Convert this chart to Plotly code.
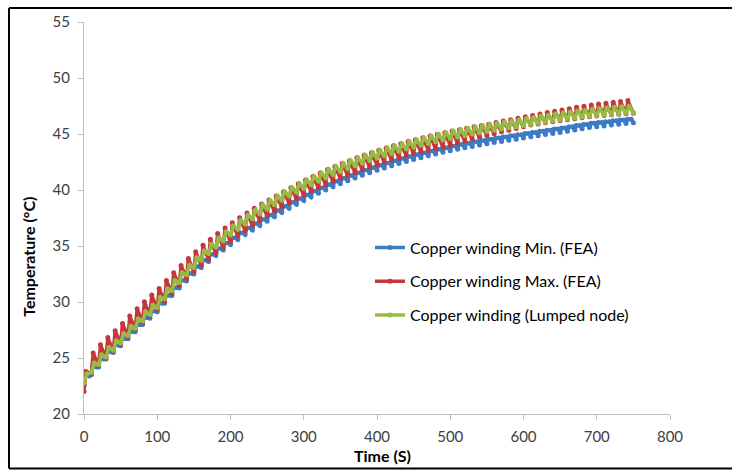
import plotly.graph_objects as go

# Start of each 10 s load cycle (s)
cycle_start = list(range(0, 760, 10))

# Copper winding (lumped node): temperature at cycle start and cycle peak (°C)
lumped_low = [
    22.8, 23.7, 24.4, 25.1, 25.7, 26.35, 27.0, 27.65, 28.3, 28.9,
    29.5, 30.28, 31.03, 31.75, 32.43, 33.09, 33.72, 34.32, 34.9, 35.45,
    35.98, 36.49, 36.97, 37.43, 37.88, 38.3, 38.71, 39.1, 39.47, 39.82,
    40.16, 40.49, 40.8, 41.1, 41.39, 41.66, 41.92, 42.17, 42.41, 42.64,
    42.86, 43.07, 43.27, 43.46, 43.65, 43.83, 43.99, 44.16, 44.31, 44.46,
    44.6, 44.74, 44.87, 44.99, 45.11, 45.22, 45.33, 45.44, 45.54, 45.63,
    45.74, 45.85, 45.95, 46.05, 46.15, 46.24, 46.33, 46.42, 46.51, 46.59,
    46.65, 46.7, 46.76, 46.81, 46.86, 46.91,
]
lumped_high = [
    23.6, 24.55, 25.28, 25.94, 26.54, 27.19, 27.84, 28.49, 29.12, 29.72,
    30.41, 31.18, 31.92, 32.62, 33.29, 33.94, 34.56, 35.15, 35.72, 36.26,
    36.78, 37.28, 37.75, 38.21, 38.65, 39.06, 39.47, 39.85, 40.21, 40.56,
    40.89, 41.21, 41.52, 41.82, 42.1, 42.36, 42.62, 42.87, 43.1, 43.33,
    43.54, 43.75, 43.95, 44.14, 44.32, 44.49, 44.66, 44.82, 44.97, 45.12,
    45.26, 45.39, 45.52, 45.64, 45.75, 45.86, 45.97, 46.08, 46.18, 46.27,
    46.38, 46.48, 46.58, 46.68, 46.78, 46.87, 46.96, 47.05, 47.13, 47.21,
    47.27, 47.32, 47.38, 47.43, 47.48,
]

# Copper winding Min. (FEA)
fea_min_low = [
    22.6, 23.5, 24.2, 24.9, 25.5, 26.1, 26.72, 27.35, 27.98, 28.56,
    29.14, 29.88, 30.58, 31.25, 31.88, 32.49, 33.07, 33.62, 34.15, 34.65,
    35.13, 35.59, 36.02, 36.43, 36.83, 37.2, 37.61, 38.0, 38.37, 38.72,
    39.06, 39.39, 39.7, 40.0, 40.29, 40.56, 40.82, 41.07, 41.31, 41.54,
    41.76, 41.97, 42.17, 42.36, 42.55, 42.73, 42.89, 43.06, 43.21, 43.36,
    43.5, 43.64, 43.77, 43.89, 44.01, 44.12, 44.23, 44.34, 44.44, 44.53,
    44.64, 44.75, 44.85, 44.95, 45.05, 45.14, 45.25, 45.36, 45.47, 45.57,
    45.65, 45.72, 45.8, 45.87, 45.94, 46.01,
]
fea_min_high = [
    23.4, 24.2, 24.9, 25.55, 26.15, 26.75, 27.37, 28.0, 28.61, 29.19,
    29.88, 30.61, 31.29, 31.94, 32.56, 33.16, 33.72, 34.26, 34.78, 35.27,
    35.74, 36.18, 36.6, 37.01, 37.39, 37.76, 38.16, 38.54, 38.9, 39.24,
    39.58, 39.9, 40.2, 40.5, 40.78, 41.04, 41.3, 41.54, 41.78, 42.0,
    42.22, 42.42, 42.62, 42.81, 42.99, 43.16, 43.33, 43.49, 43.64, 43.78,
    43.92, 44.06, 44.18, 44.3, 44.42, 44.53, 44.64, 44.74, 44.84, 44.93,
    45.04, 45.14, 45.24, 45.34, 45.44, 45.53, 45.64, 45.75, 45.85, 45.95,
    46.03, 46.1, 46.18, 46.25, 46.32,
]

# Copper winding Max. (FEA)
fea_max_low = [
    22.0, 23.6, 24.3, 25.0, 25.6, 26.25, 26.9, 27.55, 28.2, 28.8,
    29.35, 30.08, 30.78, 31.45, 32.08, 32.69, 33.27, 33.82, 34.35, 34.85,
    35.38, 35.89, 36.37, 36.83, 37.28, 37.7, 38.11, 38.5, 38.87, 39.22,
    39.56, 39.89, 40.2, 40.5, 40.79, 41.06, 41.32, 41.57, 41.81, 42.04,
    42.26, 42.47, 42.67, 42.86, 43.05, 43.23, 43.39, 43.56, 43.71, 43.86,
    44.0, 44.19, 44.37, 44.54, 44.71, 44.87, 45.03, 45.19, 45.34, 45.48,
    45.64, 45.8, 45.9, 46.0, 46.1, 46.19, 46.28, 46.37, 46.46, 46.54,
    46.6, 46.65, 46.71, 46.76, 46.81, 46.86,
]
fea_max_high = [
    23.8, 25.45, 26.18, 26.84, 27.44, 28.09, 28.74, 29.39, 30.02, 30.62,
    31.21, 31.93, 32.62, 33.27, 33.89, 34.49, 35.06, 35.6, 36.12, 36.61,
    37.08, 37.53, 37.95, 38.36, 38.75, 39.11, 39.47, 39.85, 40.21, 40.56,
    40.89, 41.21, 41.52, 41.82, 42.1, 42.36, 42.62, 42.87, 43.1, 43.33,
    43.54, 43.75, 43.95, 44.14, 44.32, 44.49, 44.66, 44.82, 44.97, 45.12,
    45.26, 45.39, 45.52, 45.64, 45.75, 45.86, 46.02, 46.16, 46.28, 46.4,
    46.53, 46.66, 46.78, 46.91, 47.03, 47.15, 47.26, 47.38, 47.48, 47.59,
    47.67, 47.75, 47.83, 47.91, 47.98,
]

series_names = [
    "Copper winding Min. (FEA)",
    "Copper winding Max. (FEA)",
    "Copper winding (Lumped node)",
]
series_colors = ["#3B7CC4", "#C6373B", "#97BB45"]


def cycle_trace(starts, low, high, peak_after, hold_until=None):
    """Expand per-cycle start/peak temperatures into a time series."""
    xs, ys = [], []
    for k in range(len(high)):
        t0 = starts[k]
        xs += [t0, t0 + peak_after]
        ys += [low[k], high[k]]
        if hold_until is not None:
            xs.append(t0 + hold_until)
            ys.append(high[k])
    xs.append(starts[len(high)])
    ys.append(low[len(high)])
    return xs, ys


curves = [
    cycle_trace(cycle_start, fea_min_low, fea_min_high, 2, hold_until=7),
    cycle_trace(cycle_start, fea_max_low, fea_max_high, 2.5),
    cycle_trace(cycle_start, lumped_low, lumped_high, 4),
]

fig = go.Figure()
for i, ((xs, ys), name, color) in enumerate(zip(curves, series_names, series_colors)):
    fig.add_trace(go.Scatter(
        x=xs, y=ys, name=name, mode="lines+markers",
        line=dict(color=color, width=3.5),
        marker=dict(color=color, size=5),
        legendgroup=f"g{i}",
    ))

axis_font = dict(family="Lato", size=15, color="#404040")
title_font = dict(family="Lato", size=16, color="#000000", weight="bold")

fig.update_layout(
    width=732, height=470,
    margin=dict(l=84, r=62, t=20, b=56),
    paper_bgcolor="white", plot_bgcolor="white",
    showlegend=True,
    legend=dict(
        x=0.488, y=0.468, xanchor="left", yanchor="top",
        font=dict(family="Lato", size=16, color="#000000"),
        bgcolor="rgba(0,0,0,0)", tracegroupgap=10, itemwidth=30,
    ),
    xaxis=dict(
        range=[0, 800], tickvals=[0, 100, 200, 300, 400, 500, 600, 700, 800],
        showgrid=False, zeroline=False, showline=True, linecolor="#BFBFBF", linewidth=1,
        ticks="outside", ticklen=5, tickcolor="#BFBFBF", tickfont=axis_font,
        ticklabelstandoff=4,
    ),
    yaxis=dict(
        range=[20, 55], tickvals=[20, 25, 30, 35, 40, 45, 50, 55],
        showgrid=False, zeroline=False, showline=True, linecolor="#BFBFBF", linewidth=1,
        ticks="outside", ticklen=5, tickcolor="#BFBFBF", tickfont=axis_font,
        ticklabelstandoff=5,
    ),
    annotations=[
        dict(text="Time (S)", xref="paper", yref="paper", x=0.510, y=-0.1066,
             xanchor="center", yanchor="middle", showarrow=False, font=title_font),
        dict(text="Temperature (°C)", xref="paper", yref="paper", x=-0.0939, y=0.401,
             xanchor="center", yanchor="middle", textangle=-90, showarrow=False,
             font=title_font),
    ],
    shapes=[
        dict(type="line", xref="paper", yref="paper", x0=-0.128, x1=-0.128, y0=-0.139, y1=1.036,
             line=dict(color="black", width=2)),
        dict(type="line", xref="paper", yref="paper", x0=-0.128, x1=1.12, y0=1.036, y1=1.036,
             line=dict(color="black", width=2)),
        dict(type="line", xref="paper", yref="paper", x0=-0.128, x1=1.12, y0=-0.139, y1=-0.139,
             line=dict(color="black", width=2)),
    ],
)

fig.write_html("out.html")
